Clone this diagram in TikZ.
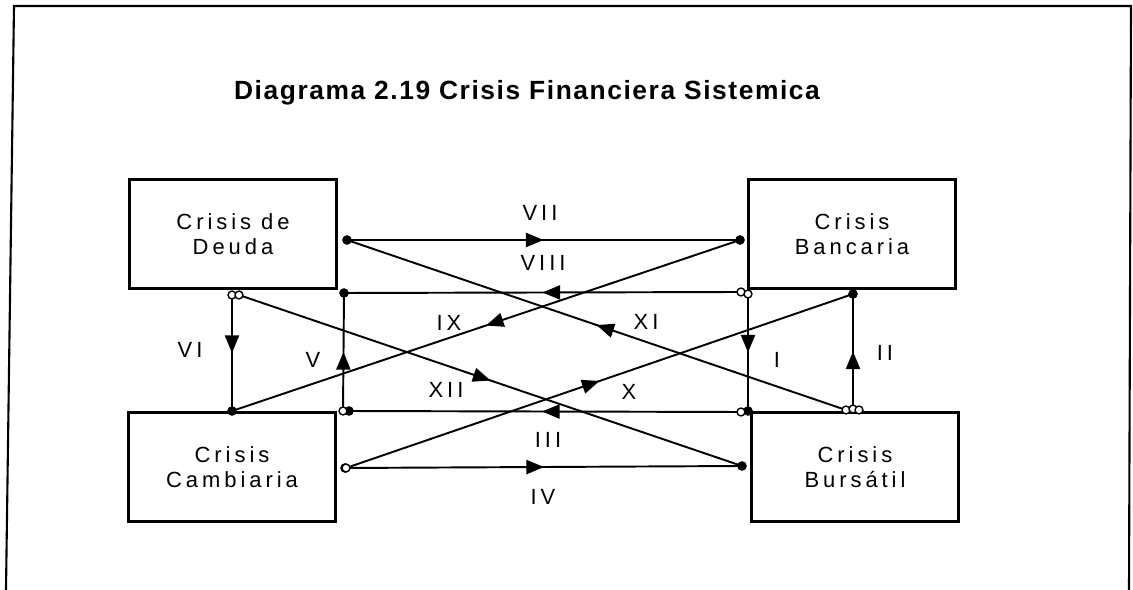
\documentclass[tikz,border=0pt]{standalone}
\usepackage{fontspec}
\setmainfont{Liberation Sans}
\newfontfamily\spacedfont[LetterSpace=18]{Liberation Sans}
\newfontfamily\headfont[LetterSpace=6]{Liberation Sans Bold}
\usetikzlibrary{arrows.meta,decorations.markings}

\tikzset{
  crisisbox/.style={draw, line width=1.7pt, minimum width=4.14cm, minimum height=2.18cm,
    align=center, font=\spacedfont\fontsize{12.5}{14.5}\selectfont},
  link/.style={line width=1.1pt, postaction={decorate},
    decoration={markings, mark=at position 0.5 with {\arrow{Triangle[length=10pt,width=8pt]}}}},
  dot/.style={circle, fill, inner sep=0pt, minimum size=5.5pt},
  ring/.style={circle, draw, fill=white, inner sep=0pt, minimum size=4.5pt, line width=0.8pt},
  roman/.style={font=\spacedfont\fontsize{12.5}{14}\selectfont}
}

\begin{document}
\begin{tikzpicture}[x=0.02cm, y=-0.02cm]
  \useasboundingbox (0,0) rectangle (1133,590);
  % frame
  \draw[line width=1.2pt] (6,590) -- (14,6) -- (1131,6) -- (1129,590);
  \node[font=\headfont\fontsize{15}{18}\selectfont] (title) at (527,93) {Diagrama 2.19 Crisis Financiera Sistemica};

  % the four crises
  \node[crisisbox] (deuda) at (233,234) {Crisis de\\Deuda};
  \node[crisisbox] (bancaria) at (852,234) {Crisis\\Bancaria};
  \node[crisisbox] (cambiaria) at (232,467) {Crisis\\Cambiaria};
  \node[crisisbox] (bursatil) at (855,467) {Crisis\\Burs\'atil};

  % ends of the links
  \coordinate (d1) at (347,240);
  \coordinate (d2) at (344,293);
  \coordinate (d3) at (232,295);
  \coordinate (d4) at (239,295);
  \coordinate (b1) at (740,240);
  \coordinate (b2) at (741,292);
  \coordinate (b3) at (748,294);
  \coordinate (b4) at (853,294);
  \coordinate (c1) at (232,411);
  \coordinate (c2) at (343,411);
  \coordinate (c3) at (346,468);
  \coordinate (r1) at (748,411);
  \coordinate (r2) at (741,412);
  \coordinate (r3) at (853,409);
  \coordinate (r4) at (846,410);
  \coordinate (r5) at (742,466);

  \draw[link] (d1) -- (b1);
  \draw[link] (b2) -- (d2);
  \draw[link] (b1) -- (c1);
  \draw[link] (r4) -- (d1);
  \draw[link] (c3) -- (b4);
  \draw[link] (d4) -- (r5);
  \draw[link] (r2) -- (c2);
  \draw[link] (c3) -- (r5);
  \draw[link] (d3) -- (c1);
  \draw[link] (c2) -- (d2);
  \draw[link] (b3) -- (r1);
  \draw[link] (r3) -- (b4);

  \node[roman] (lVII) at (540,213) {VII};
  \node[roman] (lVIII) at (543,263) {VIII};
  \node[roman] (lIX) at (449,323) {IX};
  \node[roman] (lXI) at (646,322) {XI};
  \node[roman] (lXII) at (446,390) {XII};
  \node[roman] (lX) at (629,392) {X};
  \node[roman] (lIII) at (548,440) {III};
  \node[roman] (lIV) at (543,497) {IV};
  \node[roman] (lVI) at (190,350) {VI};
  \node[roman] (lV) at (313,360) {V};
  \node[roman] (lI) at (777,360) {I};
  \node[roman] (lII) at (885,353) {II};

  % end marks
  \foreach \p in {d1,d2,b1,b4,c1,r1,r5} \node[dot] at (\p) {};
  \node[dot] at (349,411) {};
  \node[dot] at (345,468) {};
  \foreach \p in {d3,d4,b2,b3,c2,c3,r2,r4,r3} \node[ring] at (\p) {};
  \node[ring] at (859,410) {};
\end{tikzpicture}
\end{document}
